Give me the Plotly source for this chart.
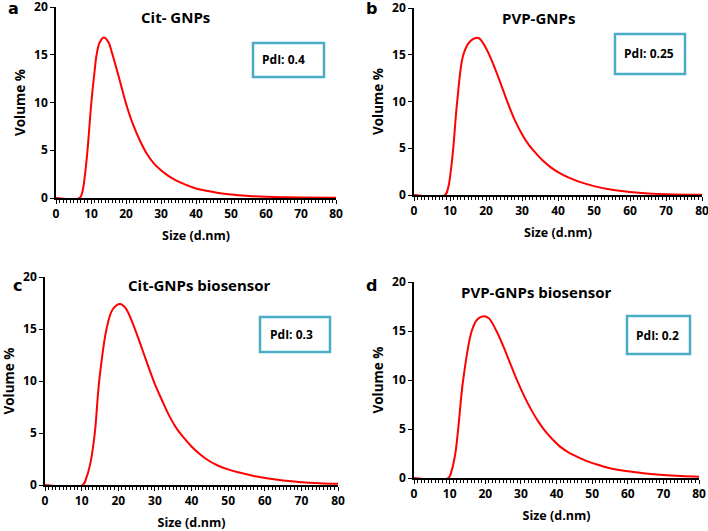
import plotly.graph_objects as go

# ---- data (Size in d.nm, Volume %) ----
size_a = [0, 6.7, 7.5, 8.3, 9.0, 10.1, 11.0, 11.6, 12.5, 13.7, 15.0, 16.0, 18, 20, 22, 24, 26, 28, 30, 32, 34, 36, 38, 40, 43, 46, 50, 55, 60, 65, 70, 80]
vol_a = [0, 0, 0.6, 2.5, 5.0, 10.0, 13.2, 15.0, 16.3, 16.8, 16.3, 15.2, 12.6, 9.9, 7.7, 6.0, 4.6, 3.6, 2.9, 2.35, 1.9, 1.55, 1.25, 1.0, 0.75, 0.55, 0.36, 0.22, 0.13, 0.08, 0.05, 0.02]

size_b = [0, 8.6, 9.5, 10.2, 10.9, 12.0, 13.7, 15.5, 17.9, 20, 22, 24, 26, 28, 30, 32, 34, 36, 38, 40, 43, 46, 50, 55, 60, 65, 70, 80]
vol_b = [0, 0, 0.8, 2.5, 5.0, 10.0, 15.0, 16.4, 16.8, 15.7, 14.0, 12.0, 9.9, 8.0, 6.5, 5.3, 4.4, 3.6, 2.95, 2.45, 1.85, 1.4, 0.95, 0.55, 0.32, 0.17, 0.09, 0.03]

size_c = [0, 10.3, 11.3, 12.5, 13.6, 14.8, 16.8, 18.5, 20.5, 22, 24, 26, 28, 30, 32, 34, 36, 38, 40, 42, 44, 47, 50, 53, 57, 61, 65, 70, 75, 80]
vol_c = [0, 0, 0.7, 2.3, 5.0, 10.0, 15.0, 16.9, 17.4, 17.0, 15.5, 13.6, 11.6, 9.7, 8.1, 6.6, 5.4, 4.5, 3.7, 3.05, 2.5, 1.9, 1.5, 1.2, 0.87, 0.62, 0.43, 0.27, 0.17, 0.11]

size_d = [0, 9.6, 10.6, 11.6, 12.4, 13.8, 16.2, 17.8, 19.5, 21, 23, 25, 27, 29, 31, 33, 35, 37, 39, 41, 43, 45, 48, 51, 55, 60, 65, 70, 75, 80]
vol_d = [0, 0, 0.8, 2.5, 5.0, 10.0, 15.0, 16.2, 16.5, 16.3, 15.1, 13.5, 11.7, 9.9, 8.3, 6.9, 5.7, 4.7, 3.9, 3.2, 2.7, 2.3, 1.8, 1.42, 1.0, 0.68, 0.46, 0.31, 0.21, 0.14]

panel_letters = ["a", "b", "c", "d"]
panel_titles = ["Cit- GNPs", "PVP-GNPs", "Cit-GNPs biosensor", "PVP-GNPs biosensor"]
pdi_labels = ["PdI: 0.4", "PdI: 0.25", "PdI: 0.3", "PdI: 0.2"]
x_ticks = [0, 10, 20, 30, 40, 50, 60, 70, 80]
y_ticks = [0, 5, 10, 15, 20]

W, H = 708, 531
FONT = "Open Sans"

def px(x):
    return x / W

def py(y):
    return 1 - y / H

# panel geometry in pixels: (left, right, top, bottom)
plots = [(56, 336, 7, 198), (414, 702, 8, 195), (45, 338, 277, 485), (414, 699, 282, 478)]
boxes = [(253, 324, 43, 77), (615, 685, 34, 74), (260, 330, 317, 352), (627, 690, 316, 354)]
pdi_text_xy = [(260, 60), (622, 54), (268, 334), (634, 335)]
title_xy = [(175, 17), (538, 18), (199, 285), (536, 292)]
letter_xy = [(13, 9), (371, 8), (17, 285), (371, 285)]

data = [(size_a, vol_a), (size_b, vol_b), (size_c, vol_c), (size_d, vol_d)]

fig = go.Figure()
layout = dict(
    width=W, height=H,
    margin=dict(l=0, r=0, t=0, b=0),
    paper_bgcolor="white", plot_bgcolor="white",
    showlegend=False,
    font=dict(family=FONT, color="black"),
)
annotations = []
shapes = []

for i, ((xs, ys), (l, r, t, b)) in enumerate(zip(data, plots)):
    n = "" if i == 0 else str(i + 1)
    fig.add_trace(go.Scatter(
        x=xs, y=ys, mode="lines",
        line=dict(color="#FF0000", width=2, shape="spline", smoothing=1.0),
        xaxis="x" + n, yaxis="y" + n, hoverinfo="skip",
    ))
    layout["xaxis" + n] = dict(
        domain=[px(l), px(r)], range=[0, 80], anchor="y" + n,
        tickvals=x_ticks, ticks="outside", ticklen=4, tickwidth=1.2, tickcolor="black",
        minor=dict(dtick=1, ticks="outside", ticklen=3, tickwidth=1, tickcolor="black", showgrid=False),
        showline=True, linecolor="black", linewidth=1.5, showgrid=False, zeroline=False,
        tickfont=dict(family=FONT, size=12, weight="bold"),
        ticklabeloverflow="allow",
        title=dict(text="Size (d.nm)", font=dict(family=FONT, size=12.5, weight="bold"), standoff=10),
        automargin=False, fixedrange=True,
    )
    layout["yaxis" + n] = dict(
        domain=[py(b), py(t)], range=[0, 20], anchor="x" + n,
        tickvals=y_ticks, ticks="outside", ticklen=4, tickwidth=1.2, tickcolor="black",
        showline=True, linecolor="black", linewidth=1.5, showgrid=False, zeroline=False,
        tickfont=dict(family=FONT, size=12, weight="bold"),
        ticklabeloverflow="allow",
        title=dict(text="Volume %", font=dict(family=FONT, size=13.5, weight="bold"), standoff=5),
        automargin=False, fixedrange=True,
    )
    bl, br, bt, bb = boxes[i]
    shapes.append(dict(type="rect", xref="paper", yref="paper",
                       x0=px(bl), x1=px(br), y0=py(bb), y1=py(bt),
                       line=dict(color="#4BACC6", width=2.5), fillcolor="white", layer="above"))
    tx, ty = pdi_text_xy[i]
    annotations.append(dict(text=pdi_labels[i], xref="paper", yref="paper", x=px(tx), y=py(ty),
                            xanchor="left", yanchor="middle", showarrow=False,
                            font=dict(family=FONT, size=12, weight="bold", color="black")))
    cx, cy = title_xy[i]
    annotations.append(dict(text=panel_titles[i], xref="paper", yref="paper", x=px(cx), y=py(cy),
                            xanchor="center", yanchor="middle", showarrow=False,
                            font=dict(family=FONT, size=15, weight="bold", color="black")))
    lx, ly = letter_xy[i]
    annotations.append(dict(text=panel_letters[i], xref="paper", yref="paper", x=px(lx), y=py(ly),
                            xanchor="center", yanchor="middle", showarrow=False,
                            font=dict(family="DejaVu Sans", size=16, weight="bold", color="black")))

layout["annotations"] = annotations
layout["shapes"] = shapes
fig.update_layout(**layout)
fig.write_html(
    "out.html",
    config={"displayModeBar": False},
    post_script="document.body.style.margin='0';document.body.style.overflow='hidden';",
)
